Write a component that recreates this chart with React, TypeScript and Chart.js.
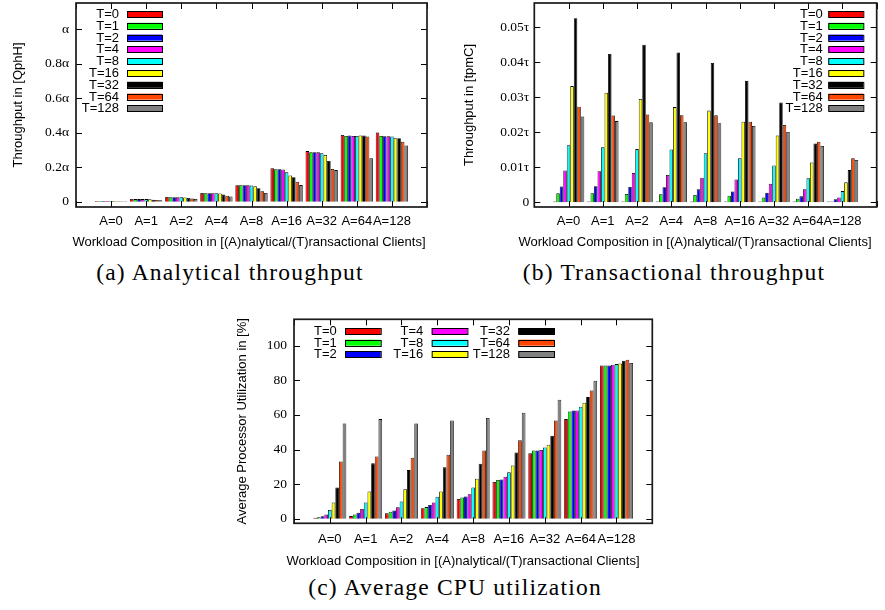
import React, { useEffect, useRef } from 'react';
import { Chart, registerables } from 'chart.js';

Chart.register(...registerables);

// ---------- shared categories / series ----------
const categories = ['A=0', 'A=1', 'A=2', 'A=4', 'A=8', 'A=16', 'A=32', 'A=64', 'A=128'];
const seriesLabels = ['T=0', 'T=1', 'T=2', 'T=4', 'T=8', 'T=16', 'T=32', 'T=64', 'T=128'];
const seriesColors = ['#ff0000', '#00ff00', '#0000ff', '#ff00ff', '#00ffff', '#ffff00', '#000000', '#ff4500', '#808080'];

const xTitle = 'Workload Composition in [(A)nalytical/(T)ransactional Clients]';

// ---------- (a) analytical throughput, in units of α ----------
const qphT0 = [0.004, 0.016, 0.027, 0.05, 0.095, 0.193, 0.293, 0.386, 0.4];
const qphT1 = [0.004, 0.015, 0.026, 0.049, 0.095, 0.188, 0.287, 0.38, 0.38];
const qphT2 = [0.004, 0.015, 0.026, 0.049, 0.095, 0.188, 0.287, 0.384, 0.379];
const qphT4 = [0.004, 0.015, 0.026, 0.049, 0.095, 0.187, 0.287, 0.381, 0.379];
const qphT8 = [0.004, 0.015, 0.026, 0.049, 0.094, 0.17, 0.281, 0.381, 0.378];
const qphT16 = [0.004, 0.014, 0.025, 0.048, 0.09, 0.152, 0.27, 0.384, 0.367];
const qphT32 = [0.003, 0.011, 0.021, 0.042, 0.078, 0.142, 0.236, 0.384, 0.368];
const qphT64 = [0.003, 0.01, 0.018, 0.035, 0.06, 0.116, 0.189, 0.378, 0.347];
const qphT128 = [0.003, 0.009, 0.016, 0.03, 0.05, 0.096, 0.183, 0.251, 0.326];
const qphTickValues = [0, 0.2, 0.4, 0.6, 0.8, 1];
const qphTickLabels = ['0', '0.2α', '0.4α', '0.6α', '0.8α', 'α'];

// ---------- (b) transactional throughput, in units of τ ----------
const tpmT0 = [0.0002, 0.0002, 0.0002, 0.0002, 0.0002, 0.0002, 0.0002, 0.0002, 0.0002];
const tpmT1 = [0.0026, 0.0026, 0.0024, 0.0023, 0.0021, 0.0019, 0.0014, 0.001, 0.0002];
const tpmT2 = [0.0045, 0.0046, 0.0044, 0.0043, 0.0037, 0.0031, 0.0027, 0.0017, 0.0009];
const tpmT4 = [0.0091, 0.0089, 0.0084, 0.0078, 0.007, 0.0065, 0.0053, 0.0037, 0.0014];
const tpmT8 = [0.0163, 0.0157, 0.0152, 0.0151, 0.014, 0.0126, 0.0105, 0.0069, 0.0032];
const tpmT16 = [0.0332, 0.0313, 0.0295, 0.0272, 0.0262, 0.023, 0.0191, 0.0114, 0.0057];
const tpmT32 = [0.0526, 0.0424, 0.045, 0.0428, 0.0398, 0.0347, 0.0285, 0.0168, 0.0092];
const tpmT64 = [0.0273, 0.0248, 0.0251, 0.0249, 0.0249, 0.023, 0.0221, 0.0173, 0.0126];
const tpmT128 = [0.0245, 0.0232, 0.0229, 0.0229, 0.0226, 0.0218, 0.0201, 0.0161, 0.0121];
const tpmTickValues = [0, 0.01, 0.02, 0.03, 0.04, 0.05];
const tpmTickLabels = ['0', '0.01τ', '0.02τ', '0.03τ', '0.04τ', '0.05τ'];

// ---------- (c) average CPU utilization, % ----------
const cpuT0 = [0.5, 1.5, 3.1, 6, 11.4, 21.2, 37.8, 57.6, 88.6];
const cpuT1 = [0.8, 2.5, 4, 6.7, 12.3, 22.4, 39.5, 62, 88.6];
const cpuT2 = [1.4, 3.5, 4.8, 7.9, 12.9, 22.7, 39.5, 62.6, 88.6];
const cpuT4 = [2.5, 5.6, 6.6, 9.4, 14.1, 24.3, 39.7, 62.6, 89];
const cpuT8 = [5, 9.4, 10, 12.7, 18.1, 26.8, 41.2, 64.7, 89.4];
const cpuT16 = [9.4, 15.8, 17, 15.8, 23.1, 30.8, 42.8, 67.1, 89.8];
const cpuT32 = [18.1, 32, 28.1, 29.7, 31.8, 38.3, 48, 70.3, 91.3];
const cpuT64 = [33.1, 36, 35.3, 37, 39.5, 45.3, 56.8, 74.2, 91.9];
const cpuT128 = [55.1, 57.6, 55.1, 56.8, 58.2, 61.3, 68.8, 79.8, 90];
const cpuTickValues = [0, 20, 40, 60, 80, 100];
const cpuTickLabels = ['0', '20', '40', '60', '80', '100'];

const SANS = '"Liberation Sans", Arial, sans-serif';
const SERIF = '"Liberation Serif", "Times New Roman", serif';

// ---------- plugins ----------
const framePlugin = {
  id: 'frame',
  afterDatasetsDraw(chart: any, _args: any, opts: any) {
    const { ctx, chartArea } = chart;
    const { left, right, top, bottom } = chartArea;
    const xs = chart.scales.x;
    const ys = chart.scales.y;
    const tl = 6;
    ctx.save();
    ctx.strokeStyle = '#000';
    ctx.lineWidth = 1;
    ctx.beginPath();
    ys.ticks.forEach((t: any) => {
      const py = Math.round(ys.getPixelForValue(t.value)) + 0.5;
      ctx.moveTo(left, py);
      ctx.lineTo(left + tl, py);
      ctx.moveTo(right, py);
      ctx.lineTo(right - tl, py);
    });
    xs.ticks.forEach((_t: any, i: number) => {
      const px = Math.round(xs.getPixelForTick(i)) + 0.5;
      ctx.moveTo(px, top);
      ctx.lineTo(px, top + tl);
      ctx.moveTo(px, bottom);
      ctx.lineTo(px, bottom - tl);
    });
    ctx.stroke();
    ctx.strokeStyle = '#1a1a1a';
    ctx.lineWidth = 1.7;
    ctx.strokeRect(left, top, right - left, bottom - top);
    if (opts && opts.title) {
      ctx.fillStyle = '#000';
      ctx.font = `13px ${SANS}`;
      ctx.textAlign = 'center';
      ctx.textBaseline = 'middle';
      ctx.fillText(opts.title, opts.titleX, opts.titleY);
    }
    ctx.restore();
  },
};

const keyPlugin = {
  id: 'boxKey',
  afterDatasetsDraw(chart: any, _args: any, opts: any) {
    if (!opts || !opts.rows) return;
    const { ctx } = chart;
    ctx.save();
    ctx.font = `13px ${SANS}`;
    ctx.textAlign = 'right';
    ctx.textBaseline = 'middle';
    chart.data.datasets.forEach((ds: any, i: number) => {
      const col = Math.floor(i / opts.rows);
      const row = i % opts.rows;
      const cy = opts.y0 + row * opts.dy;
      ctx.fillStyle = '#000';
      ctx.fillText(ds.label, opts.labelX[col], cy + 0.5);
      const bx = opts.boxX[col];
      ctx.fillStyle = ds.backgroundColor;
      ctx.fillRect(bx, cy - opts.boxH / 2, opts.boxW, opts.boxH);
      ctx.strokeStyle = '#000';
      ctx.lineWidth = 1;
      ctx.strokeRect(bx + 0.5, Math.round(cy - opts.boxH / 2) + 0.5, opts.boxW, opts.boxH);
    });
    ctx.restore();
  },
};

type PanelSpec = {
  left: number;
  top: number;
  width: number;
  height: number;
  series: number[][];
  yMin: number;
  yMax: number;
  yTickValues: number[];
  yTickLabels: string[];
  yTitle: string;
  yWidth: number;
  yTitlePad: number;
  yTickPad: number;
  xHeight: number;
  xTickPad: number;
  xTitleX: number;
  xTitleY: number;
  padTop: number;
  padRight: number;
  key: any;
};

function Panel({ spec }: { spec: PanelSpec }) {
  const ref = useRef<HTMLCanvasElement | null>(null);
  useEffect(() => {
    if (!ref.current) return;
    const xLabels = ['', ...categories, ''];
    const datasets = spec.series.map((vals, i) => ({
      label: seriesLabels[i],
      data: [null, ...vals, null],
      backgroundColor: seriesColors[i],
      borderColor: '#000',
      borderWidth: 0.8,
      borderSkipped: 'start',
      categoryPercentage: 0.92,
      barPercentage: 1.0,
    }));
    const chart = new Chart(ref.current, {
      type: 'bar',
      data: { labels: xLabels, datasets: datasets as any },
      plugins: [framePlugin, keyPlugin],
      options: {
        responsive: false,
        animation: false,
        devicePixelRatio: 1,
        layout: { padding: { top: spec.padTop, right: spec.padRight, left: 0, bottom: 0 } },
        plugins: {
          legend: { display: false },
          tooltip: { enabled: false },
          boxKey: spec.key,
          frame: { title: xTitle, titleX: spec.xTitleX, titleY: spec.xTitleY },
        } as any,
        scales: {
          x: {
            type: 'category',
            offset: false,
            grid: { display: false, drawTicks: false },
            border: { display: false },
            ticks: {
              autoSkip: false,
              maxRotation: 0,
              minRotation: 0,
              padding: spec.xTickPad,
              color: '#000',
              font: { family: SANS, size: 13 },
            },
            title: { display: false },
            afterFit: (s: any) => {
              s.height = spec.xHeight;
              s.paddingLeft = 0;
              s.paddingRight = 0;
            },
          },
          y: {
            type: 'linear',
            min: spec.yMin,
            max: spec.yMax,
            grid: { display: false, drawTicks: false },
            border: { display: false },
            afterBuildTicks: (s: any) => {
              s.ticks = spec.yTickValues.map((v) => ({ value: v }));
            },
            ticks: {
              padding: spec.yTickPad,
              color: '#000',
              font: { family: SERIF, size: 13.5 },
              callback: (_v: any, i: number) => spec.yTickLabels[i],
            },
            title: {
              display: true,
              text: spec.yTitle,
              color: '#000',
              font: { family: SANS, size: 13 },
              padding: { top: spec.yTitlePad, bottom: 0 },
            },
            afterFit: (s: any) => {
              s.width = spec.yWidth;
              s.paddingTop = 0;
              s.paddingBottom = 0;
            },
          },
        },
      } as any,
    });
    return () => chart.destroy();
  }, [spec]);
  return (
    <canvas
      ref={ref}
      width={spec.width}
      height={spec.height}
      style={{ position: 'absolute', left: spec.left, top: spec.top, width: spec.width, height: spec.height }}
    />
  );
}

const specA: PanelSpec = {
  left: 0,
  top: 0,
  width: 442,
  height: 256,
  series: [qphT0, qphT1, qphT2, qphT4, qphT8, qphT16, qphT32, qphT64, qphT128],
  yMin: -0.0307,
  yMax: 1.1505,
  yTickValues: qphTickValues,
  yTickLabels: qphTickLabels,
  yTitle: 'Throughput in [QphH]',
  yWidth: 76,
  yTitlePad: 10.5,
  yTickPad: 7,
  xHeight: 49,
  xTickPad: 7,
  xTitleX: 249,
  xTitleY: 242.3,
  padTop: 3,
  padRight: 15,
  key: { rows: 9, y0: 14, dy: 11.8, labelX: [119], boxX: [127], boxW: 35, boxH: 6 },
};

const specB: PanelSpec = {
  left: 442,
  top: 0,
  width: 443,
  height: 256,
  series: [tpmT0, tpmT1, tpmT2, tpmT4, tpmT8, tpmT16, tpmT32, tpmT64, tpmT128],
  yMin: -0.00134,
  yMax: 0.05694,
  yTickValues: tpmTickValues,
  yTickLabels: tpmTickLabels,
  yTitle: 'Throughput in [tpmC]',
  yWidth: 92.3,
  yTitlePad: 19.5,
  yTickPad: 5,
  xHeight: 49,
  xTickPad: 7,
  xTitleX: 253,
  xTitleY: 242.3,
  padTop: 3,
  padRight: 8.3,
  key: { rows: 9, y0: 14, dy: 11.8, labelX: [380.7], boxX: [386.3], boxW: 35, boxH: 6 },
};

const specC: PanelSpec = {
  left: 200,
  top: 300,
  width: 470,
  height: 272,
  series: [cpuT0, cpuT1, cpuT2, cpuT4, cpuT8, cpuT16, cpuT32, cpuT64, cpuT128],
  yMin: -2.66,
  yMax: 115.3,
  yTickValues: cpuTickValues,
  yTickLabels: cpuTickLabels,
  yTitle: 'Average Processor Utilization in [%]',
  yWidth: 94,
  yTitlePad: 34.5,
  yTickPad: 7,
  xHeight: 48.7,
  xTickPad: 8,
  xTitleX: 263,
  xTitleY: 261.5,
  padTop: 19.3,
  padRight: 17.7,
  key: { rows: 3, y0: 31, dy: 11.7, labelX: [136.7, 223.3, 310], boxX: [145, 231.7, 318.3], boxW: 35.7, boxH: 6 },
};

const captionStyle = (cx: number, cy: number): React.CSSProperties => ({
  position: 'absolute',
  left: cx - 250,
  top: cy - 14,
  width: 500,
  height: 28,
  lineHeight: '28px',
  textAlign: 'center',
  fontFamily: SERIF,
  fontSize: 23.5,
  letterSpacing: 1.2,
  color: '#000',
  whiteSpace: 'nowrap',
});

export default function App() {
  return (
    <div style={{ position: 'absolute', left: 0, top: 0, width: 885, height: 610, background: '#fff', overflow: 'hidden' }}>
      <Panel spec={specA} />
      <Panel spec={specB} />
      <Panel spec={specC} />
      <div style={captionStyle(230, 271.7)}>(a) Analytical throughput</div>
      <div style={captionStyle(674, 271.7)}>(b) Transactional throughput</div>
      <div style={captionStyle(455, 587)}>(c) Average CPU utilization</div>
    </div>
  );
}
